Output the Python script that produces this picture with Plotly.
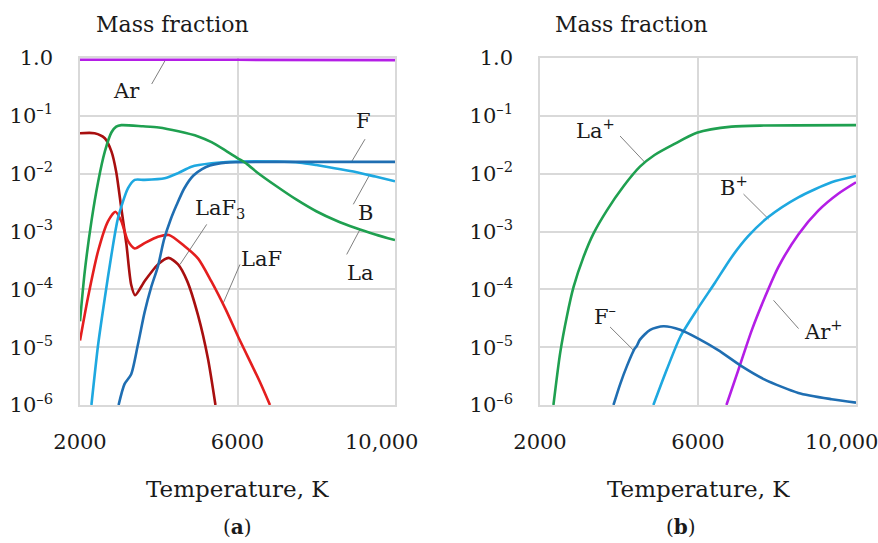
import plotly.graph_objects as go

# ---------------- data (panel a: neutral species) ----------------
ar_T = [2000, 6000, 10000]
ar_v = [0.93, 0.93, 0.92]

la_T = [2000, 2120, 2290, 2460, 2630, 2800, 2920, 3050, 3600, 4000, 4500, 5000, 5340, 5700,
        6000, 6250, 6500, 7000, 7500, 8000, 8500, 9000, 9500, 10000]
la_v = [2.8e-5, 2.0e-4, 1.5e-3, 7.2e-3, 2.4e-2, 5.2e-2, 6.5e-2, 6.9e-2, 6.6e-2, 6.3e-2, 5.4e-2,
        4.4e-2, 3.5e-2, 2.5e-2, 1.86e-2, 1.45e-2, 1.05e-2, 6.0e-3, 3.55e-3, 2.24e-3, 1.55e-3,
        1.15e-3, 8.9e-4, 7.1e-4]

laf3_T = [2000, 2370, 2630, 2800, 2920, 3050, 3180, 3300, 3400, 3640, 3980, 4250, 4490, 4720,
          5000, 5250, 5440]
laf3_v = [5.0e-2, 5.0e-2, 4.1e-2, 2.4e-2, 1.07e-2, 2.5e-3, 5.9e-4, 1.2e-4, 7.9e-5, 1.38e-4,
          2.7e-4, 3.5e-4, 2.7e-4, 1.4e-4, 3.5e-5, 6.3e-6, 1e-6]

laf_T = [2000, 2200, 2460, 2710, 2900, 3050, 3220, 3390, 3640, 3980, 4260, 4650, 5000, 5330,
         5700, 6020, 6570, 6825]
laf_v = [1.3e-5, 7.1e-5, 4.6e-4, 1.5e-3, 2.2e-3, 1.5e-3, 6.8e-4, 5.1e-4, 6.3e-4, 8.1e-4, 8.7e-4,
         5.6e-4, 3.4e-4, 1.4e-4, 4.5e-5, 1.5e-5, 2.5e-6, 1e-6]

b_T = [2290, 2460, 2630, 2800, 2965, 3220, 3390, 3640, 4150, 4490, 4830, 5340, 6000, 7000,
       7590, 8000, 8500, 9000, 9500, 10000]
b_v = [1e-6, 1.1e-5, 7.1e-5, 4e-4, 1.7e-3, 5.6e-3, 7.8e-3, 7.8e-3, 8.3e-3, 1.02e-2, 1.32e-2,
       1.51e-2, 1.62e-2, 1.62e-2, 1.55e-2, 1.41e-2, 1.23e-2, 1.07e-2, 8.9e-3, 7.4e-3]

f_T = [2980, 3130, 3300, 3470, 3640, 3810, 3980, 4130, 4300, 4455, 4650, 4880, 5100, 5300,
       5700, 6000, 7000, 8000, 9000, 10000]
f_v = [1e-6, 2.3e-6, 3.4e-6, 1.1e-5, 4e-5, 1.1e-4, 2.5e-4, 7.1e-4, 1.6e-3, 2.9e-3, 5.6e-3,
       9.3e-3, 1.2e-2, 1.38e-2, 1.55e-2, 1.58e-2, 1.6e-2, 1.6e-2, 1.6e-2, 1.6e-2]

# ---------------- data (panel b: charged species) ----------------
lap_T = [2340, 2510, 2680, 2850, 3100, 3350, 3690, 4110, 4530, 4900, 5380, 5970, 6850, 7700, 10000]
lap_v = [1e-6, 7.9e-6, 3.4e-5, 1.1e-4, 3.6e-4, 9.1e-4, 2.3e-3, 6.0e-3, 1.32e-2, 2.1e-2,
         3.2e-2, 5.1e-2, 6.5e-2, 6.8e-2, 6.9e-2]

bp_T = [4870, 5210, 5550, 5990, 6430, 6850, 7270, 7780, 8540, 9380, 10000]
bp_v = [1e-6, 4.1e-6, 1.5e-5, 4.6e-5, 1.3e-4, 3.6e-4, 8.3e-4, 1.78e-3, 3.9e-3, 7.1e-3, 9.1e-3]

arp_T = [6720, 7020, 7360, 7690, 8030, 8540, 9045, 9550, 10000]
arp_v = [1e-6, 4e-6, 1.95e-5, 7.2e-5, 2.4e-4, 8.9e-4, 2.3e-3, 4.5e-3, 7.1e-3]

fm_T = [3860, 4030, 4200, 4400, 4450, 4530, 4790, 5125, 5550, 6030, 6510, 7100, 7690, 8540,
        9380, 10000]
fm_v = [1e-6, 2.3e-6, 4.7e-6, 9.5e-6, 1.05e-5, 1.35e-5, 2.0e-5, 2.3e-5, 2.0e-5, 1.38e-5,
        8.9e-6, 4.7e-6, 2.75e-6, 1.62e-6, 1.26e-6, 1.1e-6]

x_ticks = [2000, 6000, 10000]
x_ticktext = ["2000", "6000", "10,000"]
y_ticks = [1e-6, 1e-5, 1e-4, 1e-3, 1e-2, 1e-1, 1]
y_ticktext = ["10<sup>–6</sup>", "10<sup>–5</sup>", "10<sup>–4</sup>", "10<sup>–3</sup>",
              "10<sup>–2</sup>", "10<sup>–1</sup>", "1.0"]

# labels: (panel, text, text T, text log10y, leader T0, log0, leader T1, log1)
labels = [
    (1, "Ar", 3186, -0.567, 3821, -0.45, 4159, -0.047),
    (1, "F", 9195, -1.087, 9238, -1.404, 8900, -1.79),
    (1, "B", 9238, -2.674, 9365, -2.01, 8941, -2.53),
    (1, "La", 9111, -3.714, 9111, -2.964, 8773, -3.397),
    (1, "LaF<sub>3</sub>", 5556, -2.617, 5218, -2.877, 4540, -3.57),
    (1, "LaF", 6615, -3.484, 6063, -3.57, 5640, -4.234),
    (2, "La<sup>+</sup>", 3394, -1.233, 4027, -1.349, 4661, -1.809),
    (2, "B<sup>+</sup>", 6899, -2.21, 7152, -2.353, 7786, -2.784),
    (2, "F<sup>–</sup>", 3647, -4.45, 3774, -4.651, 4364, -5.052),
    (2, "Ar<sup>+</sup>", 9180, -4.708, 8546, -4.679, 7913, -4.19),
]

C_PURPLE = "#B41EE6"
C_GREEN = "#1FA050"
C_DARKRED = "#A80F0F"
C_RED = "#E41E1E"
C_LBLUE = "#1EA8E0"
C_DBLUE = "#1F6EB2"
FONT = "DejaVu Serif"
TXT = "#1a1a1a"

fig = go.Figure()

def add(T, v, color, xa, ya):
    fig.add_trace(go.Scatter(x=T, y=v, mode="lines",
                             line=dict(color=color, width=2.6, shape="spline", smoothing=0.7),
                             xaxis=xa, yaxis=ya, showlegend=False, hoverinfo="skip"))

# leader lines (thin grey), drawn first so curves sit above them
for panel, text, tx, ty, x0, y0, x1, y1 in labels:
    xa = "x" if panel == 1 else "x2"
    ya = "y" if panel == 1 else "y2"
    fig.add_trace(go.Scatter(x=[x0, x1], y=[10 ** y0, 10 ** y1], mode="lines",
                             line=dict(color="#7f7f7f", width=1), xaxis=xa, yaxis=ya,
                             showlegend=False, hoverinfo="skip"))

# panel a
add(ar_T, ar_v, C_PURPLE, "x", "y")
add(laf3_T, laf3_v, C_DARKRED, "x", "y")
add(laf_T, laf_v, C_RED, "x", "y")
add(b_T, b_v, C_LBLUE, "x", "y")
add(f_T, f_v, C_DBLUE, "x", "y")
add(la_T, la_v, C_GREEN, "x", "y")
# panel b
add(lap_T, lap_v, C_GREEN, "x2", "y2")
add(bp_T, bp_v, C_LBLUE, "x2", "y2")
add(arp_T, arp_v, C_PURPLE, "x2", "y2")
add(fm_T, fm_v, C_DBLUE, "x2", "y2")

# the last x tick label is drawn shifted left (kept inside the figure), as in the reference
axis_x = dict(range=[2000, 10000], tickvals=x_ticks, ticktext=x_ticktext[:-1] + [""], showgrid=True,
              gridcolor="#D9D9D9", gridwidth=1.5, zeroline=False, showline=True, linecolor="#D9D9D9",
              linewidth=1.5, mirror=True, ticks="", ticklabelstandoff=17, automargin=False,
              tickfont=dict(family=FONT, size=21, color=TXT))
axis_y = dict(type="log", range=[-6, 0], tickvals=y_ticks, ticktext=y_ticktext, showgrid=True,
              gridcolor="#D9D9D9", gridwidth=1.5, zeroline=False, showline=True, linecolor="#D9D9D9",
              linewidth=1.5, mirror=True, ticks="", ticklabelstandoff=21, automargin=False,
              tickfont=dict(family=FONT, size=21, color=TXT))

dom_y = [1 - 405 / 543, 1 - 58 / 543]
fig.update_layout(
    width=878, height=543, margin=dict(l=0, r=0, t=0, b=0, autoexpand=False),
    paper_bgcolor="white", plot_bgcolor="white",
    xaxis=dict(axis_x, domain=[80 / 878, 395 / 878], anchor="y"),
    yaxis=dict(axis_y, domain=dom_y, anchor="x"),
    xaxis2=dict(axis_x, domain=[540 / 878, 856 / 878], anchor="y2"),
    yaxis2=dict(axis_y, domain=dom_y, anchor="x2"),
)

ann = []
for panel, text, tx, ty, x0, y0, x1, y1 in labels:
    xr = "x" if panel == 1 else "x2"
    yr = "y" if panel == 1 else "y2"
    ann.append(dict(x=tx, y=ty, xref=xr, yref=yr, text=text, showarrow=False,
                    xanchor="center", yanchor="middle",
                    font=dict(family=FONT, size=21, color=TXT)))

def paper_text(cx, cy, txt, size):
    ann.append(dict(x=cx / 878, y=1 - cy / 543, xref="paper", yref="paper", text=txt,
                    showarrow=False, xanchor="center", yanchor="middle",
                    font=dict(family=FONT, size=size, color=TXT)))

for cx in (381, 841):
    paper_text(cx, 442, x_ticktext[-1], 21)
paper_text(172, 25, "Mass fraction", 22)
paper_text(631, 25, "Mass fraction", 22)
paper_text(237, 489, "Temperature, K", 23)
paper_text(698, 489, "Temperature, K", 23)
paper_text(237, 527, "(<b>a</b>)", 20)
paper_text(681, 527, "(<b>b</b>)", 20)

fig.update_layout(annotations=ann)
fig.write_html("out.html")
